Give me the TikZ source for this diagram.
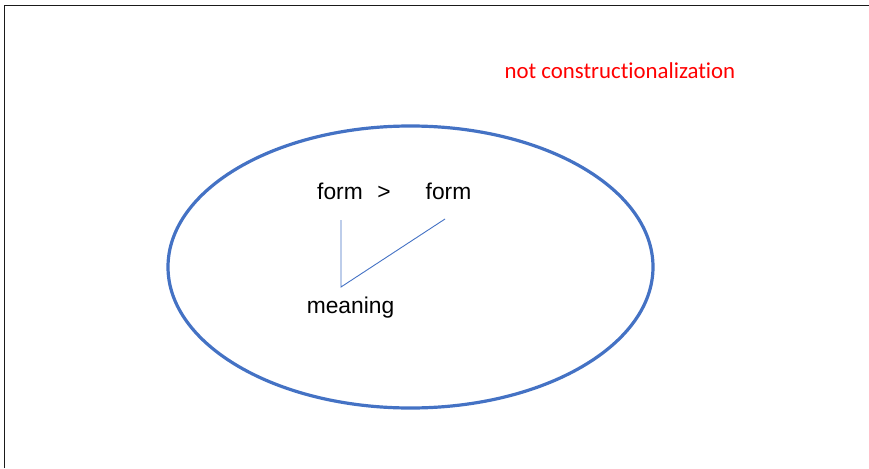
\documentclass[tikz,border=0pt]{standalone}
\usepackage{fontspec}
\setmainfont{Liberation Sans}
\newfontfamily\calibri[Ligatures=NoCommon]{Carlito}
\usepackage{tikz}
\usepackage{xcolor}
\usetikzlibrary{positioning,calc}
\definecolor{cBlue}{HTML}{4472C4}
\definecolor{cRed}{HTML}{FF0000}
\definecolor{cInk}{HTML}{000000}
\definecolor{cFrame}{HTML}{1A1A1A}
\tikzset{
  word/.style  ={font=\fontsize{22.8}{26}\selectfont,text=cInk,inner sep=0pt,anchor=base},
  note/.style  ={font=\calibri\fontsize{22.8}{26}\selectfont,text=cRed,inner sep=0pt},
  ring/.style  ={draw=cBlue,line width=3.2pt},
  link/.style  ={draw=cBlue,line width=0.9pt},
  frame/.style ={draw=cFrame,line width=1.8pt},
}
\begin{document}
\begin{tikzpicture}[x=1pt,y=-1pt]
\useasboundingbox (0,0) rectangle (869,468);
% frame (left and top edges only)
\draw[frame] (4.5,468) -- (4.5,5.5) -- (869,5.5);
% label
\node[note] (notcx) at (620,71) {not constructionalization};
% the ellipse
\draw[ring] (410.5,267) ellipse [x radius=242.5, y radius=141];
% form > form
\node[word] (formA) at (340,199) {form};
\node[word] (gt)    at (384,199) {>};
\node[word] (formB) at (448.5,199) {form};
\node[word] (meaning) at (350.5,313) {meaning};
\coordinate (fa) at (341,220);
\coordinate (fb) at (445,219);
\coordinate (mj) at (341,287);
\draw[link] (fa) -- (mj) -- (fb);
\end{tikzpicture}
\end{document}
